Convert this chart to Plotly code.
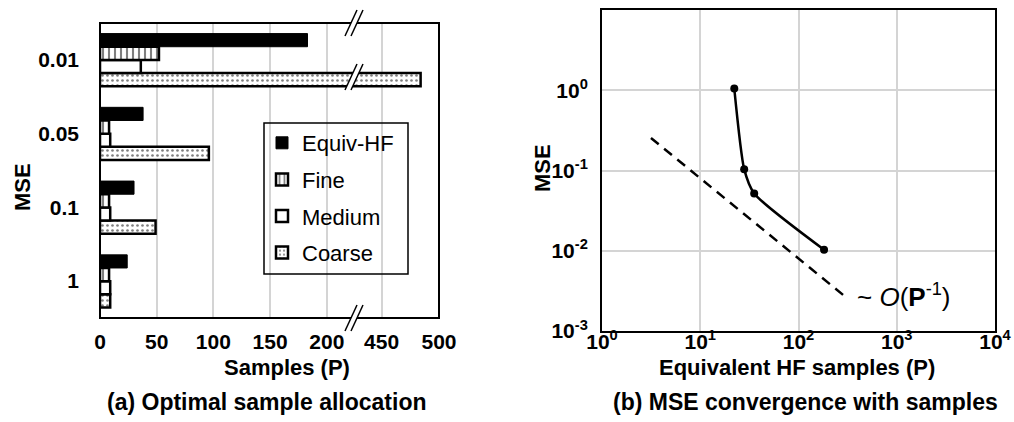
import plotly.graph_objects as go

# ---------------- data ----------------
mse_levels = ["0.01", "0.05", "0.1", "1"]          # top to bottom
equiv_hf = [183, 38, 30, 24]
fine = [52, 8, 8, 8]
medium = [36, 9, 9, 9]
coarse = [484, 96, 49, 9]

x_ticks_low = [0, 50, 100, 150, 200]
x_ticks_high = [450, 500]

hf_samples = [22.2, 28.0, 35.4, 182.0]
mse_values = [1.05, 0.104, 0.0518, 0.0103]
ref_x = [3.15, 308.0]
ref_y = [0.254, 0.0026]

log_ticks = [1, 10, 100, 1000, 10000]
log_tick_text = ["10<sup>0</sup>", "10<sup>1</sup>", "10<sup>2</sup>", "10<sup>3</sup>", "10<sup>4</sup>"]
mse_ticks = [0.001, 0.01, 0.1, 1, 10]
mse_tick_text = ["10<sup>-3</sup>", "10<sup>-2</sup>", "10<sup>-1</sup>", "10<sup>0</sup>", "10<sup>1</sup>"]

# ---------------- geometry helpers ----------------
W, H = 1014, 422
FONT = "Liberation Sans, Arial, Helvetica, sans-serif"


def px(x):
    return x / W


def py(y):
    return 1 - y / H


GRID = "#d4d4d4"

left_x0, left_brk, left_x1 = 100, 354, 439
left_top, left_bot = 23, 318
right_x0, right_x1 = 602, 995
right_top, right_bot = 10, 331

fig = go.Figure()

series = [
    ("Coarse", coarse, dict(color="white", pattern=dict(shape=".", size=5, solidity=0.22, fgcolor="black", bgcolor="white"), line=dict(color="black", width=2.5)), 4),
    ("Medium", medium, dict(color="white", line=dict(color="black", width=2.5)), 3),
    ("Fine", fine, dict(color="white", pattern=dict(shape="|", size=6, solidity=0.35, fgcolor="black", bgcolor="white"), line=dict(color="black", width=2.5)), 2),
    ("Equiv-HF", equiv_hf, dict(color="black", line=dict(color="black", width=1)), 1),
]

for name, vals, marker, rank in series:
    for xa, show in (("x", True), ("x2", False)):
        fig.add_trace(go.Bar(
            y=mse_levels, x=vals, orientation="h", name=name,
            marker=marker, xaxis=xa, yaxis="y",
            showlegend=show, legendgroup=name, legendrank=rank,
        ))

# right panel: convergence curve and reference slope
fig.add_trace(go.Scatter(
    x=ref_x, y=ref_y, mode="lines", xaxis="x3", yaxis="y3",
    line=dict(color="black", width=2.5, dash="10px,7px"), showlegend=False,
))
fig.add_trace(go.Scatter(
    x=hf_samples, y=mse_values, mode="lines+markers", xaxis="x3", yaxis="y3",
    line=dict(color="black", width=2.5, shape="spline", smoothing=0.6),
    marker=dict(color="black", size=8), showlegend=False,
))

tick_font = dict(family=FONT, size=21, color="black", weight="bold")

fig.update_layout(
    width=W, height=H,
    margin=dict(l=0, r=0, t=0, b=0, autoexpand=False),
    paper_bgcolor="white", plot_bgcolor="white",
    barmode="group", bargap=0.287, bargroupgap=0,
    font=dict(family=FONT, color="black"),
    xaxis=dict(
        domain=[px(left_x0), px(left_brk)], range=[0, 224], anchor="y",
        tickvals=x_ticks_low, tickfont=tick_font, ticks="", ticklabelstandoff=9,
        showgrid=True, gridcolor=GRID, gridwidth=2, zeroline=False,
        showline=False, automargin=False,
    ),
    xaxis2=dict(
        domain=[px(left_brk), px(left_x1)], range=[426, 500], anchor="y",
        tickvals=x_ticks_high, tickfont=tick_font, ticks="", ticklabelstandoff=9,
        showgrid=True, gridcolor=GRID, gridwidth=2, zeroline=False,
        showline=False, automargin=False,
    ),
    yaxis=dict(
        domain=[py(left_bot), py(left_top)], anchor="x",
        type="category", categoryorder="array", categoryarray=mse_levels[::-1],
        tickfont=tick_font, ticks="", ticklabelstandoff=20,
        showgrid=False, showline=False, automargin=False,
    ),
    xaxis3=dict(
        domain=[px(right_x0), px(right_x1)], type="log", range=[0, 4], anchor="y3",
        tickvals=log_ticks, ticktext=log_tick_text, tickfont=tick_font, ticks="",
        ticklabelstandoff=-9,
        showgrid=True, gridcolor=GRID, gridwidth=2, zeroline=False,
        showline=True, linecolor="black", linewidth=2, mirror=True, automargin=False,
    ),
    yaxis3=dict(
        domain=[py(right_bot), py(right_top)], type="log", range=[-3, 1], anchor="x3",
        tickvals=mse_ticks, ticktext=mse_tick_text, tickfont=tick_font, ticks="",
        ticklabelstandoff=8,
        showgrid=True, gridcolor=GRID, gridwidth=2, zeroline=False,
        showline=True, linecolor="black", linewidth=2, mirror=True, automargin=False,
    ),
    legend=dict(
        x=px(262), y=py(122), xanchor="left", yanchor="top",
        bgcolor="rgba(0,0,0,0)", borderwidth=0,
        font=dict(family=FONT, size=22, color="black"),
        traceorder="grouped", tracegroupgap=5,
    ),
)

shapes = []
# left panel frame
shapes.append(dict(type="rect", xref="paper", yref="paper",
                   x0=px(left_x0), x1=px(left_x1), y0=py(left_bot), y1=py(left_top),
                   line=dict(color="black", width=2), fillcolor="rgba(0,0,0,0)", layer="above"))
# legend box
shapes.append(dict(type="rect", xref="paper", yref="paper",
                   x0=px(264), x1=px(408), y0=py(274), y1=py(123),
                   line=dict(color="black", width=1.5), fillcolor="rgba(0,0,0,0)", layer="above"))


def axis_break(cx, cy):
    """Double slash marking the jump in the bar axis."""
    h, w, gap = 13, 6, 6
    a0, a1 = (cx - w - gap / 2, cy + h), (cx + w - gap / 2, cy - h)
    b0, b1 = (cx - w + gap / 2, cy + h), (cx + w + gap / 2, cy - h)
    path = "M {} {} L {} {} L {} {} L {} {} Z".format(
        px(a0[0]), py(a0[1]), px(a1[0]), py(a1[1]),
        px(b1[0]), py(b1[1]), px(b0[0]), py(b0[1]))
    out = [dict(type="path", xref="paper", yref="paper", path=path,
                fillcolor="white", line=dict(width=0), layer="above")]
    for p0, p1 in ((a0, a1), (b0, b1)):
        out.append(dict(type="line", xref="paper", yref="paper",
                        x0=px(p0[0]), y0=py(p0[1]), x1=px(p1[0]), y1=py(p1[1]),
                        line=dict(color="black", width=1.5), layer="above"))
    return out


for cy in (left_top, 77, left_bot):
    shapes += axis_break(left_brk, cy)

fig.update_layout(shapes=shapes)

title_font = dict(family=FONT, size=22, color="black", weight="bold")
cap_font = dict(family=FONT, size=23, color="black", weight="bold")


def label(text, x, y, font, angle=0):
    fig.add_annotation(text=text, x=px(x), y=py(y), xref="paper", yref="paper",
                       showarrow=False, xanchor="center", yanchor="middle",
                       font=font, textangle=angle)


label("MSE", 22, 187, title_font, -90)
label("Samples (P)", 287, 367, title_font)
label("(a) Optimal sample allocation", 267, 402, cap_font)
label("MSE", 542, 168, title_font, -90)
label("Equivalent HF samples (P)", 797, 367, title_font)
label("(b) MSE convergence with samples", 805, 402, cap_font)

fig.add_annotation(text="~ <i>O</i>(<b>P</b><sup>-1</sup>)", x=px(855), y=py(295),
                   xref="paper", yref="paper", showarrow=False,
                   xanchor="left", yanchor="middle",
                   font=dict(family=FONT, size=26, color="black"))

fig.write_html("out.html")
